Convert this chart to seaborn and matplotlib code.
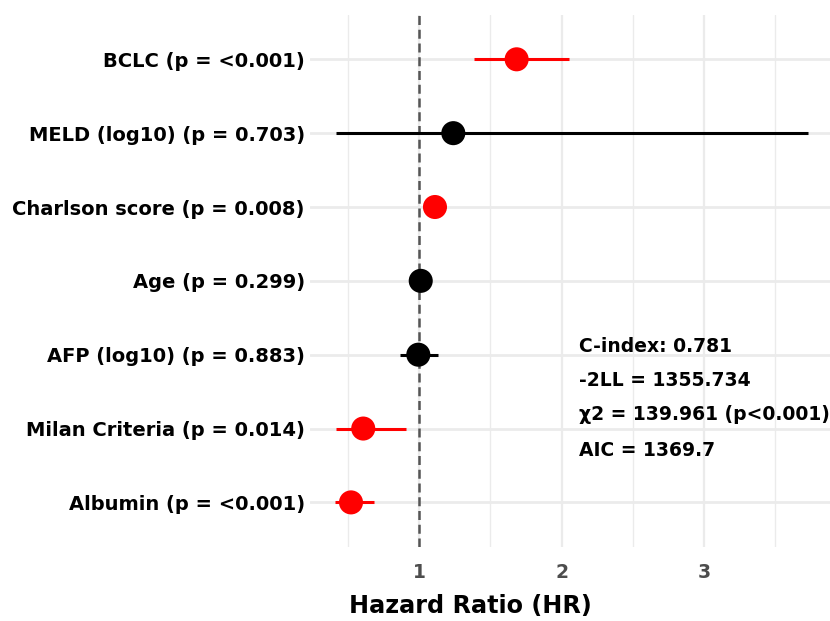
import matplotlib
matplotlib.use("Agg")
import matplotlib.pyplot as plt
import seaborn as sns
import pandas as pd
import numpy as np

# ---- data (top = first) ----
labels = ["BCLC (p = <0.001)", "MELD (log10) (p = 0.703)", "Charlson score (p = 0.008)",
          "Age (p = 0.299)", "AFP (log10) (p = 0.883)", "Milan Criteria (p = 0.014)",
          "Albumin (p = <0.001)"]
hr = [1.684, 1.239, 1.110, 1.010, 0.993, 0.606, 0.520]
lower = [1.382, 0.413, 1.035, 1.000, 0.864, 0.413, 0.408]
upper = [2.054, 3.734, 1.190, 1.020, 1.129, 0.907, 0.682]
significant = [True, False, True, False, False, True, True]
stats_lines = ["C-index: 0.781", "-2LL = 1355.734", "\u03c72 = 139.961 (p<0.001)", "AIC = 1369.7"]

df = pd.DataFrame({"label": labels, "hr": hr, "lower": lower, "upper": upper,
                   "sig": ["yes" if s else "no" for s in significant]})
df["pos"] = np.arange(len(df))

sns.set_style("white")
plt.rcParams["font.family"] = ["DejaVu Sans"]
plt.rcParams["font.weight"] = "bold"
plt.rcParams["text.color"] = "black"

W, H = 830, 621
fig = plt.figure(figsize=(W / 100, H / 100), dpi=100)
ax = fig.add_axes([310.3 / W, 1 - 546.7 / H, 1 - 310.3 / W, (546.7 - 15) / H])

# grid
for xv in [0.5, 1.5, 2.5, 3.5]:
    ax.axvline(xv, color="#ebebeb", lw=1.0, zorder=0)
for xv in [1, 2, 3]:
    ax.axvline(xv, color="#ebebeb", lw=1.6, zorder=0)
for yv in df["pos"]:
    ax.axhline(yv, color="#ebebeb", lw=2.0, zorder=0)

ax.axvline(1, color="#555555", lw=1.8, ls=(0, (3.6, 1.9)), zorder=1)

palette = {"yes": "#ff0000", "no": "#000000"}
for _, r in df.iterrows():
    ax.hlines(r["pos"], r["lower"], r["upper"], color=palette[r["sig"]], lw=2.2, zorder=2)

sns.scatterplot(data=df, x="hr", y="pos", hue="sig", palette=palette, s=300,
                edgecolor="none", legend=False, ax=ax, zorder=3)

ax.set_xlim(0.234, 3.886)
ax.set_ylim(len(df) - 1 + 0.6, -0.6)
ax.set_xticks([1, 2, 3])
ax.set_xticklabels(["1", "2", "3"], color="#4d4d4d", fontsize=13.5, fontweight="bold")
ax.set_yticks(df["pos"])
ax.set_yticklabels(df["label"], fontsize=14, fontweight="bold", color="black")
ax.tick_params(axis="both", length=0)
ax.tick_params(axis="x", pad=12)
ax.tick_params(axis="y", pad=4)
for s in ax.spines.values():
    s.set_visible(False)
ax.set_xlabel("")
ax.set_ylabel("")

fig.text(470 / W, 1 - 606 / H, "Hazard Ratio (HR)", ha="center", va="center",
         fontsize=17.2, fontweight="bold", color="black")

ys = [346, 380, 415, 450]
for t, yy in zip(stats_lines, ys):
    fig.text(579 / W, 1 - yy / H, t, ha="left", va="center", fontsize=13.5,
             fontweight="bold", color="black")

fig.savefig("out.png", dpi=100, facecolor="white")
